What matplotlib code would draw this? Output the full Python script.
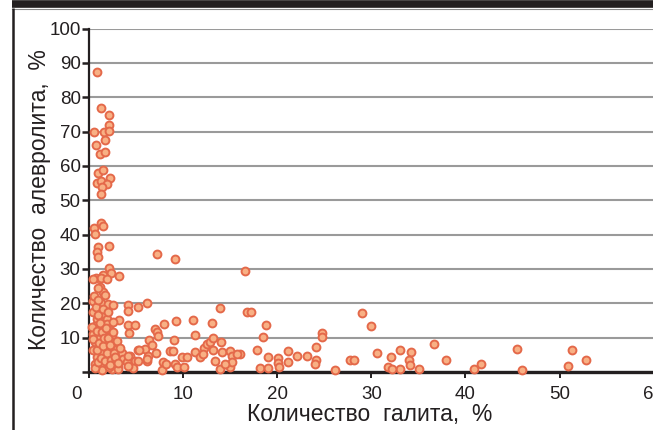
import matplotlib
matplotlib.use("Agg")
import matplotlib.pyplot as plt
import matplotlib.transforms as mtransforms
from matplotlib.lines import Line2D

plt.rcParams['font.family'] = ['Liberation Sans', 'DejaVu Sans']

# содержание галита, %
halite = [
    0.88, 1.24, 2.16, 2.16, 0.56, 1.63, 2.13, 1.70, 0.70, 1.13, 1.66, 0.92, 1.52, 2.26, 0.82, 1.31, 1.88, 1.35, 1.24,
    1.24, 0.53, 1.52, 0.64, 0.99, 2.16, 0.88, 0.99, 2.13, 2.30, 1.52, 0.74, 1.24, 1.88, 3.22, 0.46,
    1.17, 1.45, 1.70, 0.46, 1.24, 2.05, 4.18, 5.17, 6.13, 4.18, 0.46, 1.52, 0.82, 1.88, 3.22, 4.18, 4.89, 4.28,
    0.64, 1.35, 2.23, 0.46, 1.17, 2.41, 1.70, 0.64, 2.58, 1.17, 2.05, 2.94, 0.46, 1.52, 3.47, 4.36, 5.24, 5.95,
    0.82, 2.23, 3.65, 4.89, 6.13, 0.64, 1.52, 2.58, 3.11, 4.71, 1.35, 2.41, 0.99, 1.88,
    0.30, 0.40, 0.60, 0.70, 0.80, 0.90, 1.00, 1.00, 1.10, 1.20, 1.30, 1.40, 1.50, 1.60, 1.70, 1.80, 1.90,
    2.00, 2.10, 2.20, 2.30, 2.50, 2.70, 2.80, 3.00, 3.30, 0.50, 1.00, 0.99, 1.50, 2.00, 2.50, 2.60,
    7.01, 7.97, 9.21, 11.08, 13.04, 13.92, 7.19, 7.36, 9.03, 11.26, 5.35, 6.30, 7.12, 8.61, 8.89, 9.85, 10.38,
    11.26, 11.80, 12.22, 12.50, 12.86, 13.21, 14.10, 14.98, 15.16, 16.05, 13.39, 7.83, 7.73, 9.14, 9.32, 10.10,
    13.92, 14.98, 15.16, 3.11, 2.23, 2.76, 4.00,
    7.19, 9.14, 16.58, 16.82, 17.18, 18.81, 6.41, 6.66, 13.14, 14.03, 18.53, 17.82, 19.06, 6.20, 12.15, 15.69,
    14.45, 8.18, 18.17, 19.06, 3.11, 5.24, 4.18, 4.18,
    28.97, 29.93, 24.73, 24.73, 24.09, 20.12, 20.12, 20.22, 21.18, 21.18, 22.14, 23.20, 24.09, 23.99, 26.14,
    27.75, 28.20, 30.57, 32.09, 33.05, 34.20, 34.00, 34.10, 33.10, 31.74, 32.17, 35.07, 36.70, 37.94, 40.91,
    41.66, 45.52, 45.98, 51.36, 50.94, 52.85,
]

# содержание алевролита, %
siltstone = [
    87.4, 76.8, 74.7, 71.8, 70.0, 70.0, 70.3, 67.6, 66.1, 63.5, 64.1, 58.0, 58.9, 56.4, 55.1, 55.5, 54.8, 53.8, 51.9,
    43.3, 41.9, 42.6, 40.2, 36.5, 36.8, 34.9, 33.6, 30.3, 28.8, 28.1, 27.4, 27.4, 27.1, 28.0, 27.1,
    24.7, 23.2, 22.3, 20.8, 20.0, 19.8, 19.6, 18.9, 20.0, 17.9, 17.4, 16.9, 15.5, 15.5, 15.2, 13.8, 13.8, 11.3,
    13.5, 13.0, 12.1, 11.1, 10.6, 10.6, 9.2, 8.7, 8.7, 7.7, 7.2, 6.8, 6.3, 5.8, 5.5, 4.8, 6.3, 6.8,
    4.3, 4.3, 3.8, 3.3, 3.3, 2.4, 1.9, 1.9, 1.4, 1.2, 0.6, 0.9, 9.7, 14.0,
    13.0, 9.5, 1.2, 19.0, 12.0, 6.5, 2.8, 16.5, 8.3, 14.3, 4.0, 11.5, 7.5, 10.0, 3.2, 12.8, 5.6,
    9.8, 1.5, 7.8, 3.5, 11.6, 5.5, 2.5, 9.0, 7.0, 22.0, 21.0, 24.5, 18.3, 17.5, 14.6, 19.6,
    12.6, 14.0, 14.8, 15.2, 14.2, 18.7, 11.6, 10.6, 9.4, 10.9, 6.3, 4.8, 5.5, 6.1, 6.1, 4.3, 4.5,
    5.8, 4.5, 7.0, 8.2, 8.7, 6.3, 5.8, 6.1, 4.8, 5.3, 3.3, 2.9, 0.6, 2.4, 1.4, 1.4,
    0.9, 1.4, 2.9, 0.9, 1.9, 4.3, 2.9,
    34.4, 32.8, 29.5, 17.6, 17.6, 13.8, 9.2, 8.0, 10.0, 8.7, 10.1, 6.3, 4.5, 3.8, 5.3, 5.1,
    2.2, 2.4, 1.2, 1.2, 2.6, 3.1, 4.8, 1.7,
    17.1, 13.5, 11.4, 10.3, 7.2, 4.1, 2.6, 1.4, 6.1, 2.9, 4.6, 4.6, 3.6, 2.2, 0.7,
    3.6, 3.6, 5.5, 4.5, 6.5, 5.7, 3.6, 2.1, 1.0, 1.6, 0.9, 0.9, 8.2, 3.6, 0.9,
    2.3, 6.6, 0.7, 6.3, 1.8, 3.6,
]

x_ticks = [0, 10, 20, 30, 40, 50, 60]
y_ticks = [0, 10, 20, 30, 40, 50, 60, 70, 80, 90, 100]

ink = '#231f20'
fig = plt.figure(figsize=(6.53, 4.30), dpi=100)
ax = fig.add_axes([89 / 653, 58 / 430, 564.6 / 653, 343.5 / 430])

ax.scatter(halite, siltstone, s=32, c='#f8b084', edgecolors='#e4694a',
           linewidths=1.4, zorder=3, clip_on=False)

ax.set_xlim(0, 60)
ax.set_ylim(0, 100)
ax.set_xticks(x_ticks)
ax.set_yticks(y_ticks)
ax.set_yticklabels([''] + [str(v) for v in y_ticks[1:]])
ax.grid(axis='y', color='#9a9a9a', linewidth=1.5, zorder=1)
ax.set_axisbelow(True)

for side in ('top', 'right'):
    ax.spines[side].set_visible(False)
ax.spines['left'].set_linewidth(1.6)
ax.spines['left'].set_color(ink)
ax.spines['bottom'].set_linewidth(2.4)
ax.spines['bottom'].set_color(ink)
ax.tick_params(axis='y', length=5, width=1.8, pad=1, labelsize=13.5, colors=ink)
ax.tick_params(axis='x', length=4, width=1.4, pad=6, labelsize=13.5, colors=ink)

# подпись нуля по оси X сдвинута влево
zero = ax.get_xticklabels()[0]
zero.set_transform(zero.get_transform() + mtransforms.ScaledTranslation(-12 / 100, 0, fig.dpi_scale_trans))

fig.text(370 / 653, 1 - 414 / 430, 'Количество  галита,  %', ha='center', va='center',
         fontsize=16.5, color=ink)
fig.text(40 / 653, 1 - 200 / 430, 'Количество  алевролита,  %', ha='center', va='center',
         rotation=90, fontsize=16.5, color=ink)

# рамка таблицы: полоса сверху и линия слева
fig.add_artist(Line2D([12 / 653, 1], [1 - 3.5 / 430] * 2, transform=fig.transFigure,
                      color=ink, linewidth=5.5, solid_capstyle='butt'))
fig.add_artist(Line2D([12 / 653, 1], [1 - 8.5 / 430] * 2, transform=fig.transFigure,
                      color='#8a8a8a', linewidth=0.8))
fig.add_artist(Line2D([13 / 653] * 2, [0, 1 - 8 / 430], transform=fig.transFigure,
                      color=ink, linewidth=1.8, solid_capstyle='butt'))

fig.savefig('out.png', dpi=100)
